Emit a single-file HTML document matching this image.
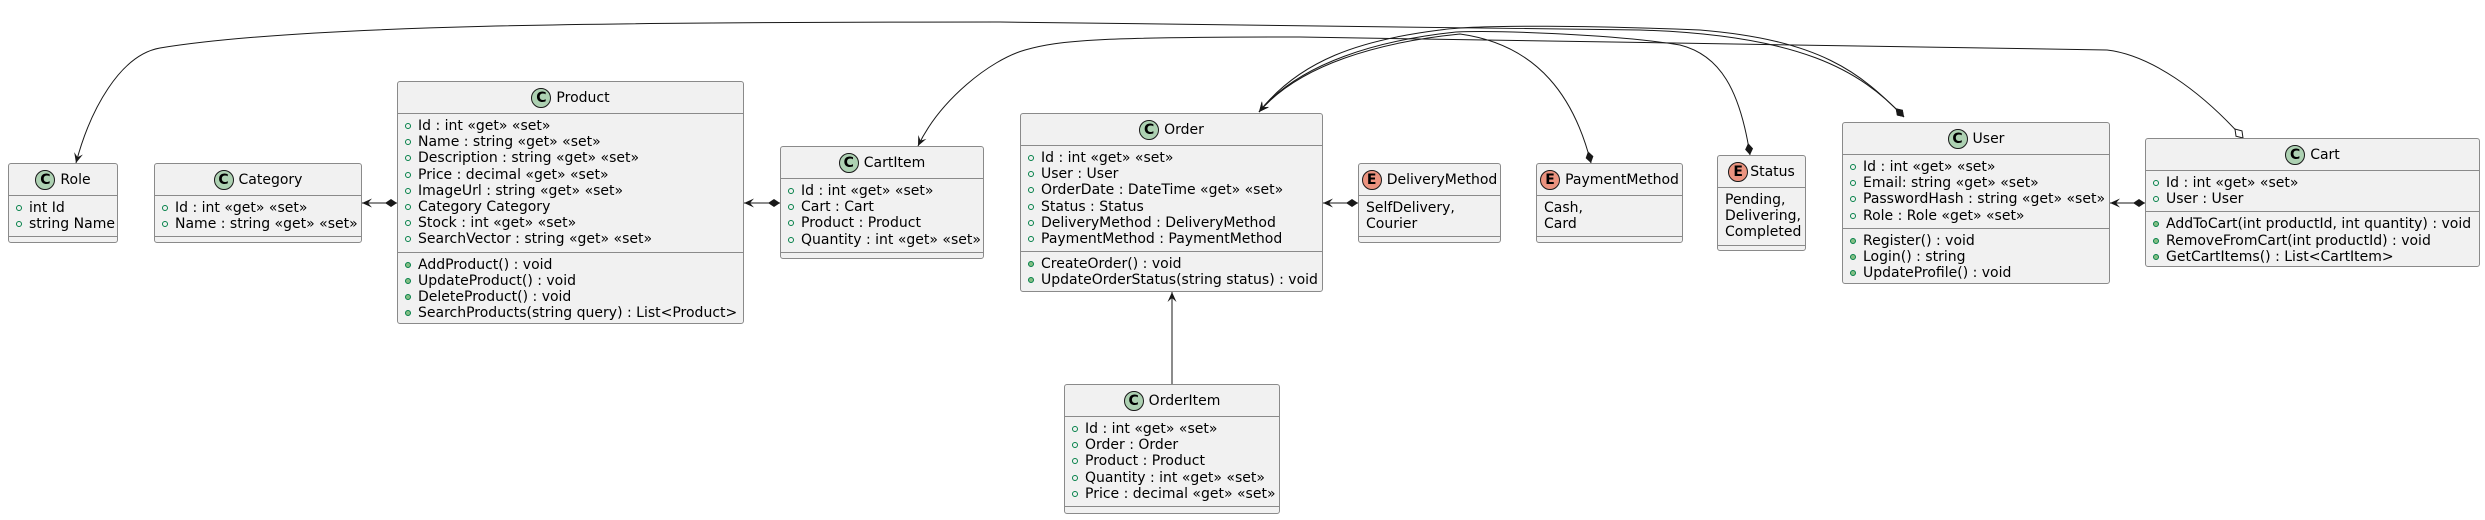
<!DOCTYPE html>
<html><head><meta charset="utf-8">
<style>
html,body{margin:0;padding:0;background:#fff;}
#c{position:relative;width:2485px;height:520px;overflow:hidden;font-family:"DejaVu Sans","Liberation Sans",sans-serif;font-size:14px;color:#000;}
.b{position:absolute;background:#F1F1F1;border:1px solid #8a8a8a;border-radius:3px;box-sizing:border-box;}
.h{height:31px;display:flex;align-items:center;justify-content:center;border-bottom:1px solid #8a8a8a;white-space:nowrap;}
.ic{width:20px;height:20px;border-radius:50%;border:1px solid #181818;background:#ADD1B2;display:inline-flex;align-items:center;justify-content:center;font-weight:bold;font-size:14px;margin-right:5px;box-sizing:border-box;}
.ic.e{background:#EB937F;}
.s{padding:4px 0 4px 0;border-bottom:1px solid #8a8a8a;}
.s:last-child{border-bottom:none;}
.r{height:16.2px;line-height:16.2px;white-space:nowrap;padding-left:20px;position:relative;}
.r:before{content:"";position:absolute;left:7px;top:5px;width:4px;height:4px;border:1px solid #038048;border-radius:50%;}
.m:before{background:#84BE84;}
.v{padding-left:7px;}
.v:before{display:none;}
.emp{height:7px;}
svg{position:absolute;left:0;top:0;}
</style></head><body><div id="c">
<svg width="2485" height="520">
<defs>
<marker id="ar" viewBox="-12 -6 14 12" refX="0" refY="0" markerWidth="14" markerHeight="12" markerUnits="userSpaceOnUse" orient="auto"><path d="M0,0 L-10,-4.5 L-6,0 L-10,4.5 Z" fill="#181818"/></marker>
<marker id="dm" viewBox="-1 -5 14 10" refX="0" refY="0" markerWidth="14" markerHeight="10" markerUnits="userSpaceOnUse" orient="auto"><path d="M0,0 L6,-4 L12,0 L6,4 Z" fill="#181818"/></marker>
<marker id="dh" viewBox="-1 -5 14 10" refX="0" refY="0" markerWidth="14" markerHeight="10" markerUnits="userSpaceOnUse" orient="auto"><path d="M0,0 L6,-4 L12,0 L6,4 Z" fill="#fff" stroke="#181818"/></marker>
</defs>
<g fill="none" stroke="#181818" stroke-width="1">
<path d="M397,203 L362,203" marker-start="url(#dm)" marker-end="url(#ar)"/>
<path d="M780,203 L744,203" marker-start="url(#dm)" marker-end="url(#ar)"/>
<path d="M1358,203 L1323,203" marker-start="url(#dm)" marker-end="url(#ar)"/>
<path d="M2145,203 L2110,203" marker-start="url(#dm)" marker-end="url(#ar)"/>
<path d="M1172,384 L1172,292" marker-end="url(#ar)"/>
<path d="M1904,117 C1860,70 1800,35 1640,30 L1000,22 C600,22 300,25 160,48 C120,55 90,110 76,163" marker-start="url(#dm)" marker-end="url(#ar)"/>
<path d="M1904,117 C1860,72 1820,40 1700,30 C1600,26 1480,24 1440,30 C1360,40 1300,60 1259,112" marker-start="url(#dm)" marker-end="url(#ar)"/>
<path d="M1750,155 C1740,90 1720,55 1680,45 C1620,35 1500,30 1456,32 C1380,40 1300,62 1259,112" marker-start="url(#dm)" marker-end="url(#ar)"/>
<path d="M1591,163 C1575,100 1540,45 1460,34 C1380,42 1300,64 1259,112" marker-start="url(#dm)" marker-end="url(#ar)"/>
<path d="M2243,138 C2200,90 2150,55 2107,50 L1300,37 C1100,37 1060,40 1025,50 C990,60 940,100 918,146" marker-start="url(#dh)" marker-end="url(#ar)"/>
</g>
</svg>

<div class="b" style="left:8px;top:163px;width:110px;height:80px;"><div class="h"><span class="ic">C</span>Role</div><div class="s"><div class="r">int Id</div><div class="r">string Name</div></div><div class="emp"></div></div>

<div class="b" style="left:154px;top:163px;width:208px;height:80px;"><div class="h"><span class="ic">C</span>Category</div><div class="s"><div class="r">Id : int «get» «set»</div><div class="r">Name : string «get» «set»</div></div><div class="emp"></div></div>

<div class="b" style="left:397px;top:81px;width:347px;height:243px;"><div class="h"><span class="ic">C</span>Product</div><div class="s"><div class="r">Id : int «get» «set»</div><div class="r">Name : string «get» «set»</div><div class="r">Description : string «get» «set»</div><div class="r">Price : decimal «get» «set»</div><div class="r">ImageUrl : string «get» «set»</div><div class="r">Category Category</div><div class="r">Stock : int «get» «set»</div><div class="r">SearchVector : string «get» «set»</div></div><div class="s"><div class="r m">AddProduct() : void</div><div class="r m">UpdateProduct() : void</div><div class="r m">DeleteProduct() : void</div><div class="r m">SearchProducts(string query) : List&lt;Product&gt;</div></div></div>

<div class="b" style="left:780px;top:146px;width:204px;height:113px;"><div class="h"><span class="ic">C</span>CartItem</div><div class="s"><div class="r">Id : int «get» «set»</div><div class="r">Cart : Cart</div><div class="r">Product : Product</div><div class="r">Quantity : int «get» «set»</div></div><div class="emp"></div></div>

<div class="b" style="left:1020px;top:113px;width:303px;height:179px;"><div class="h"><span class="ic">C</span>Order</div><div class="s"><div class="r">Id : int «get» «set»</div><div class="r">User : User</div><div class="r">OrderDate : DateTime «get» «set»</div><div class="r">Status : Status</div><div class="r">DeliveryMethod : DeliveryMethod</div><div class="r">PaymentMethod : PaymentMethod</div></div><div class="s"><div class="r m">CreateOrder() : void</div><div class="r m">UpdateOrderStatus(string status) : void</div></div></div>

<div class="b" style="left:1064px;top:384px;width:216px;height:130px;"><div class="h"><span class="ic">C</span>OrderItem</div><div class="s"><div class="r">Id : int «get» «set»</div><div class="r">Order : Order</div><div class="r">Product : Product</div><div class="r">Quantity : int «get» «set»</div><div class="r">Price : decimal «get» «set»</div></div><div class="emp"></div></div>

<div class="b" style="left:1358px;top:163px;width:143px;height:80px;"><div class="h"><span class="ic e">E</span>DeliveryMethod</div><div class="s"><div class="r v">SelfDelivery,</div><div class="r v">Courier</div></div><div class="emp"></div></div>

<div class="b" style="left:1536px;top:163px;width:147px;height:80px;"><div class="h"><span class="ic e">E</span>PaymentMethod</div><div class="s"><div class="r v">Cash,</div><div class="r v">Card</div></div><div class="emp"></div></div>

<div class="b" style="left:1717px;top:155px;width:89px;height:96px;"><div class="h"><span class="ic e" style="margin-right:2px">E</span>Status</div><div class="s"><div class="r v">Pending,</div><div class="r v">Delivering,</div><div class="r v">Completed</div></div><div class="emp"></div></div>

<div class="b" style="left:1842px;top:122px;width:268px;height:162px;"><div class="h"><span class="ic">C</span>User</div><div class="s"><div class="r">Id : int «get» «set»</div><div class="r">Email: string «get» «set»</div><div class="r">PasswordHash : string «get» «set»</div><div class="r">Role : Role «get» «set»</div></div><div class="s"><div class="r m">Register() : void</div><div class="r m">Login() : string</div><div class="r m">UpdateProfile() : void</div></div></div>

<div class="b" style="left:2145px;top:138px;width:335px;height:129px;"><div class="h"><span class="ic">C</span>Cart</div><div class="s"><div class="r">Id : int «get» «set»</div><div class="r">User : User</div></div><div class="s"><div class="r m">AddToCart(int productId, int quantity) : void</div><div class="r m">RemoveFromCart(int productId) : void</div><div class="r m">GetCartItems() : List&lt;CartItem&gt;</div></div></div>
</div></body></html>
